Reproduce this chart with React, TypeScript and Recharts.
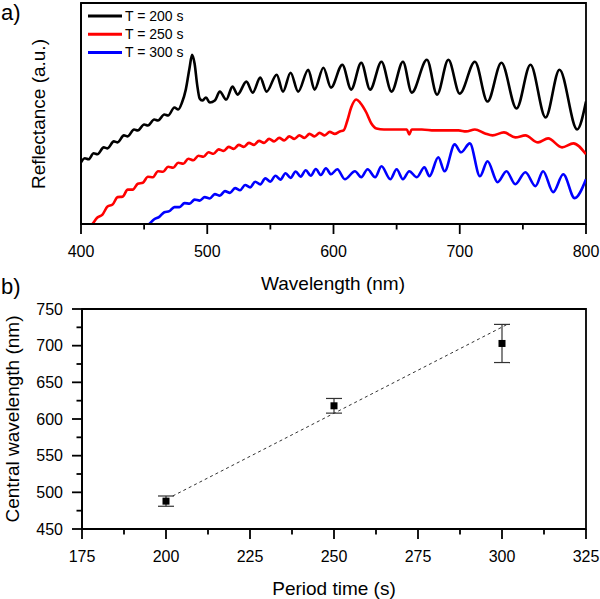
import React from 'react';
import {
  LineChart,
  ComposedChart,
  Line,
  Scatter,
  ErrorBar,
  XAxis,
  YAxis,
  ReferenceArea,
} from 'recharts';

const FONT = '"Liberation Sans", Arial, Helvetica, sans-serif';

// ---- panel a: reflectance spectra, [wavelength (nm), reflectance (a.u.)]
const spectrum200 = [
  [400, 62], [403, 66], [406, 65], [410, 71], [413, 70], [418, 77], [421, 76], [426, 83], [429, 82],
  [434, 89], [437, 88], [442, 95], [445, 94], [450, 100], [453, 99], [458, 105], [461, 104], [466, 110],
  [469, 109], [474, 117], [477, 115], [480, 122], [483, 135], [486, 157], [488, 170], [490, 161],
  [492, 140], [494, 126], [496, 124], [499, 127], [502, 122], [506, 124], [510, 133], [515, 125],
  [520, 138], [524, 130], [531, 143], [536, 132], [542, 147], [547, 133], [555, 150], [560, 133],
  [566, 152], [572, 133], [580, 155], [585, 135], [592, 157], [598, 137], [607, 160], [614, 135],
  [622, 162], [629, 135], [638, 163], [646, 133], [655, 163], [662, 132], [674, 165], [682, 130],
  [691, 165], [700, 131], [712, 163], [722, 123], [733, 162], [745, 116], [756, 160], [768, 107],
  [779, 155], [793, 95], [800, 123],
];

const spectrum250 = [
  [407, -3], [409, 0], [413, 6.5], [417, 9.5], [421, 17.5], [425, 19.5], [429, 27], [433, 27.5],
  [437, 34.5], [441, 34.5], [445, 40.5], [449, 41.5], [453, 47.5], [457, 47], [461, 53], [465, 52.5],
  [469, 57.5], [473, 56.5], [477, 61.5], [481, 60.5], [485, 65.5], [489, 64], [493, 68.5], [497, 67.5],
  [501, 72], [505, 70.5], [509, 75], [513, 73.5], [517, 77.5], [521, 75.5], [525, 79.5], [529, 77.5],
  [533, 81.5], [537, 79.5], [541, 83.5], [545, 81.5], [549, 85.5], [553, 83], [557, 86.5], [561, 84],
  [565, 88], [569, 85.5], [573, 89], [577, 86.5], [581, 90.5], [585, 88], [589, 91.5], [593, 89],
  [597, 92.5], [601, 90.5], [605, 93], [608, 94], [611, 104], [614, 117], [618, 125], [621, 122],
  [626, 112], [630, 101], [634, 96], [640, 95], [650, 95], [658, 95], [660, 90], [662, 95], [670, 95],
  [680, 94], [690, 94], [699, 94], [705, 93], [712, 95], [720, 91], [726, 89], [735, 92], [744, 87],
  [752, 89], [762, 82], [770, 86], [781, 77], [790, 81], [800, 70],
];

const spectrum300 = [
  [452, -2], [454, 0], [458, 4.8], [462, 7.2], [466, 11.8], [470, 12.9], [474, 17], [478, 17],
  [482, 21], [486, 20.5], [490, 24.5], [494, 23.5], [498, 27], [502, 25.6], [506, 30], [510, 28.5],
  [514, 33], [518, 31.3], [522, 36], [526, 33.9], [530, 39.2], [534, 36.8], [538, 42.5], [542, 39.8],
  [546, 45.8], [550, 42.6], [554, 48.5], [558, 44.6], [562, 51], [566, 46.3], [570, 52.8], [574, 47.6],
  [578, 54], [582, 48.4], [586, 55.2], [590, 49.2], [594, 56], [598, 50], [603, 55], [609, 45],
  [617, 53], [622, 47], [627, 55], [633, 47], [638, 58], [645, 45], [650, 55], [655, 45], [660, 53],
  [666, 47], [672, 57], [676, 48], [683, 67], [688, 53], [696, 80], [701, 72], [708, 81], [716, 48],
  [722, 63], [730, 42], [737, 53], [744, 40], [752, 52], [760, 38], [766, 53], [774, 32], [782, 50],
  [791, 26], [800, 45],
];

const spectra = [
  { name: 'T = 200 s', color: '#000000', points: spectrum200 },
  { name: 'T = 250 s', color: '#ff0000', points: spectrum250 },
  { name: 'T = 300 s', color: '#0000ff', points: spectrum300 },
];

const wavelengthTicks = [400, 450, 500, 550, 600, 650, 700, 750, 800];

// ---- panel b: central wavelength vs period time
const periodTimes = [200, 250, 300];
const centralWavelengths = [488, 618, 703];
const wavelengthErrors = [7, 10, 26];
const fitTimes = [202, 302];
const fitWavelengths = [495, 730];
const periodTicks = [175, 187.5, 200, 212.5, 225, 237.5, 250, 262.5, 275, 287.5, 300, 312.5, 325];
const centralTicks = [450, 475, 500, 525, 550, 575, 600, 625, 650, 675, 700, 725, 750];

const AXIS = { stroke: '#000', strokeWidth: 1.8 };

const bottomTick = (isMajor: (v: number) => boolean) => (props: any) => {
  const { x, y, payload } = props;
  const big = isMajor(payload.value);
  return (
    <g>
      <line x1={x} y1={y} x2={x} y2={y + (big ? 10 : 5.5)} stroke="#000" strokeWidth={1.8} />
      {big && (
        <text x={x} y={y + 27} textAnchor="middle" dominantBaseline="central" fontSize={16} fontFamily={FONT} fill="#000">
          {payload.value}
        </text>
      )}
    </g>
  );
};

const leftTick = (isMajor: (v: number) => boolean) => (props: any) => {
  const { x, y, payload } = props;
  const big = isMajor(payload.value);
  return (
    <g>
      <line x1={x} y1={y} x2={x - (big ? 10 : 5.5)} y2={y} stroke="#000" strokeWidth={1.8} />
      {big && (
        <text x={x - 19} y={y} textAnchor="end" dominantBaseline="central" fontSize={16} fontFamily={FONT} fill="#000">
          {payload.value}
        </text>
      )}
    </g>
  );
};

const SpectraChart = () => (
  <LineChart width={600} height={300} margin={{ top: 3, right: 14, left: 80, bottom: 0 }}>
    <XAxis
      dataKey="w"
      type="number"
      domain={[400, 800]}
      ticks={wavelengthTicks}
      interval={0}
      height={76}
      tickSize={0}
      tickMargin={0}
      tickLine={false}
      axisLine={AXIS}
      tick={bottomTick((v) => v % 100 === 0)}
      allowDataOverflow
    />
    <YAxis type="number" domain={[0, 222]} width={1} tick={false} tickLine={false} axisLine={AXIS} allowDataOverflow />
    <ReferenceArea x1={400} x2={800} y1={0} y2={222} fill="none" stroke="#000" strokeWidth={1.8} />
    {spectra.map((s) => (
      <Line
        key={s.name}
        name={s.name}
        data={s.points.map(([w, r]) => ({ w, r }))}
        dataKey="r"
        type="monotone"
        stroke={s.color}
        strokeWidth={2.6}
        dot={false}
        isAnimationActive={false}
      />
    ))}
  </LineChart>
);

const PeakChart = () => {
  const points = periodTimes.map((t, i) => ({ t, w: centralWavelengths[i], e: wavelengthErrors[i] }));
  const fit = fitTimes.map((t, i) => ({ t, w: fitWavelengths[i] }));
  return (
    <ComposedChart width={600} height={299} margin={{ top: 9, right: 14, left: 81, bottom: 0 }}>
      <XAxis
        dataKey="t"
        type="number"
        domain={[175, 325]}
        ticks={periodTicks}
        interval={0}
        height={70}
        tickSize={0}
        tickMargin={0}
        tickLine={false}
        axisLine={AXIS}
        tick={bottomTick((v) => v % 25 === 0)}
      />
      <YAxis
        dataKey="w"
        type="number"
        domain={[450, 750]}
        ticks={centralTicks}
        interval={0}
        width={1}
        tickSize={0}
        tickMargin={0}
        tickLine={false}
        axisLine={AXIS}
        tick={leftTick((v) => v % 50 === 0)}
      />
      <ReferenceArea x1={175} x2={325} y1={450} y2={750} fill="none" stroke="#000" strokeWidth={1.8} />
      <Line
        data={fit}
        dataKey="w"
        type="linear"
        stroke="#333"
        strokeWidth={1}
        strokeDasharray="3 3"
        dot={false}
        isAnimationActive={false}
      />
      <Scatter
        data={points}
        fill="#000"
        isAnimationActive={false}
        shape={(p: any) => <rect x={p.cx - 3.5} y={p.cy - 3.5} width={7} height={7} fill="#000" />}
      >
        <ErrorBar dataKey="e" direction="y" width={8} stroke="#333" strokeWidth={1.2} />
      </Scatter>
    </ComposedChart>
  );
};

export default function App() {
  return (
    <div style={{ position: 'absolute', left: 0, top: 0, width: 600, height: 599, background: '#fff' }}>
      <div style={{ position: 'absolute', left: 0, top: 0 }}>
        <SpectraChart />
      </div>
      <div style={{ position: 'absolute', left: 0, top: 300 }}>
        <PeakChart />
      </div>
      <svg
        width={600}
        height={599}
        style={{ position: 'absolute', left: 0, top: 0, pointerEvents: 'none' }}
        fontFamily={FONT}
      >
        <text x={1} y={20} fontSize={22}>a)</text>
        <text x={1} y={294} fontSize={22}>b)</text>
        {spectra.map((s, i) => (
          <g key={s.name}>
            <line x1={88} x2={122} y1={16 + i * 18.2} y2={16 + i * 18.2} stroke={s.color} strokeWidth={3} />
            <text x={125} y={16 + i * 18.2} fontSize={14} dominantBaseline="central">{s.name}</text>
          </g>
        ))}
        <text x={333} y={283} fontSize={19} textAnchor="middle" dominantBaseline="central">Wavelength (nm)</text>
        <text
          x={38}
          y={114}
          fontSize={19}
          textAnchor="middle"
          dominantBaseline="central"
          transform="rotate(-90 38 114)"
        >
          Reflectance (a.u.)
        </text>
        <text x={334} y={588} fontSize={19} textAnchor="middle" dominantBaseline="central">Period time (s)</text>
        <text
          x={12}
          y={419}
          fontSize={19}
          textAnchor="middle"
          dominantBaseline="central"
          transform="rotate(-90 12 419)"
        >
          Central wavelength (nm)
        </text>
      </svg>
    </div>
  );
}
